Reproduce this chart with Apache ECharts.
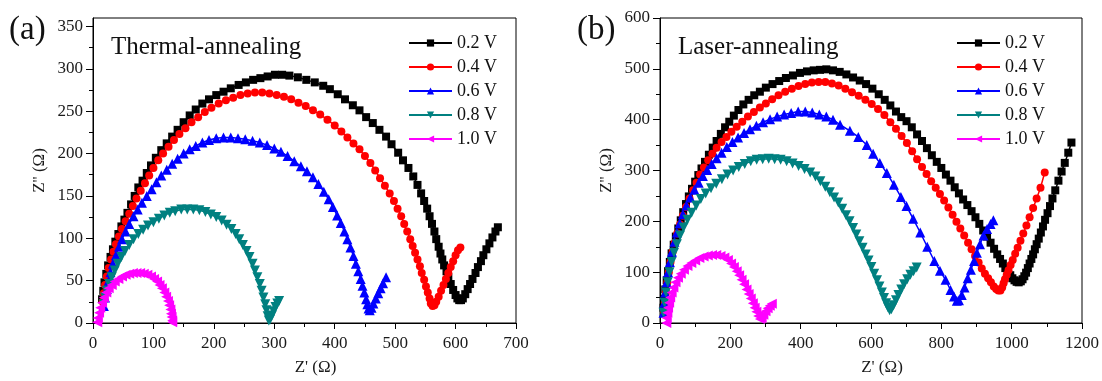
<!DOCTYPE html>
<html>
<head>
<meta charset="utf-8">
<script src="https://cdn.jsdelivr.net/npm/echarts@6/dist/echarts.min.js"></script>
<style>
  html, body { margin: 0; padding: 0; background: #ffffff; }
  #chart { width: 1102px; height: 381px; }
</style>
</head>
<body>
<div id="chart"></div>
<script>
// Bias voltages (legend entries)
const voltages = ['0.2 V', '0.4 V', '0.6 V', '0.8 V', '1.0 V'];

// Tick values
const thermalXTicks = [0, 100, 200, 300, 400, 500, 600, 700];
const thermalYTicks = [0, 50, 100, 150, 200, 250, 300, 350];
const thermalYMinor = [25, 75, 125, 175, 225, 275, 325];
const laserXTicks = [0, 200, 400, 600, 800, 1000, 1200];
const laserYTicks = [0, 100, 200, 300, 400, 500, 600];

// (a) Thermal-annealing: [Z' (Ω), Z'' (Ω)]
const thermal02 = [[15,28],[17,38],[19,48],[22,58],[25,68],[29,78],[33,87],[37,96],[42,105],[47,114],[52,122],[57,130],[63,140],[69,150],[75,160],[82,168],[89,177],[96,186],[104,195],[113,204],[122,212],[131,220],[140,228],[150,237],[160,245],[170,252],[181,259],[192,264],[204,269],[216,273],[228,277],[241,281],[253,284],[265,287],[277,289],[289,291],[301,293],[313,293],[325,292],[339,290],[353,287],[367,284],[381,280],[392,276],[405,270],[417,264],[430,257],[441,251],[452,243],[463,236],[474,228],[485,220],[494,211],[505,201],[513,192],[522,183],[530,173],[537,163],[543,153],[548,144],[553,135],[557,126],[561,117],[565,108],[568,99],[572,90],[575,82],[578,75],[581,68],[585,61],[588,54],[592,46],[596,39],[600,33],[603,29],[606,27],[609,27],[612,29],[616,34],[620,40],[624,46],[628,52],[633,59],[637,66],[642,73],[646,80],[651,87],[656,94],[661,101],[666,108],[670,113]];
const thermal04 = [[16,25],[18,35],[20,45],[23,55],[26,65],[30,75],[34,84],[38,93],[43,102],[48,111],[54,120],[60,129],[66,138],[72,147],[79,156],[86,165],[93,174],[100,183],[108,192],[116,200],[125,208],[134,216],[143,223],[153,230],[163,237],[174,243],[185,249],[196,254],[208,259],[220,263],[232,266],[244,269],[256,271],[268,272],[280,272],[292,271],[304,269],[316,267],[328,264],[340,260],[352,256],[364,251],[376,246],[388,240],[400,233],[411,226],[421,219],[431,212],[441,205],[450,197],[459,189],[467,180],[475,171],[483,162],[491,153],[498,144],[504,135],[510,126],[515,117],[520,108],[525,99],[529,91],[533,83],[537,75],[541,67],[544,59],[548,51],[551,43],[554,36],[557,29],[559,23],[562,20],[565,21],[568,25],[572,31],[576,38],[580,45],[584,52],[588,59],[592,66],[596,73],[600,80],[604,86],[608,89]];
const thermal06 = [[18,20],[20,30],[23,40],[26,50],[29,60],[33,70],[38,80],[43,90],[48,99],[54,108],[60,117],[67,126],[74,134],[81,142],[89,150],[97,158],[105,166],[113,174],[122,181],[131,188],[140,194],[150,200],[160,205],[170,209],[181,213],[192,216],[204,218],[216,219],[228,219],[240,218],[252,217],[264,215],[276,213],[288,210],[300,206],[311,202],[322,197],[333,191],[344,185],[354,179],[364,172],[373,164],[382,155],[390,146],[397,137],[404,127],[410,118],[416,108],[421,99],[426,89],[431,79],[435,70],[439,61],[443,52],[446,44],[449,36],[452,28],[454,22],[456,17],[458,15],[461,18],[464,23],[468,29],[472,35],[476,41],[480,47],[485,54]];
const thermal08 = [[18,22],[20,30],[23,38],[27,46],[31,54],[36,62],[41,70],[47,78],[53,85],[60,92],[67,99],[75,105],[83,110],[91,115],[100,119],[109,123],[118,127],[127,130],[136,132],[146,134],[156,134],[166,134],[176,133],[186,131],[195,128],[204,125],[213,121],[221,116],[229,111],[236,105],[242,99],[248,92],[254,85],[259,78],[264,70],[268,62],[272,54],[276,46],[279,38],[282,30],[285,22],[287,15],[289,8],[291,3],[293,4],[296,9],[299,14],[302,19],[305,23],[308,26]];
const thermal10 = [[7,1],[8,6],[10,12],[12,18],[15,24],[18,30],[22,36],[26,41],[31,45],[36,49],[42,52],[48,55],[54,57],[60,58],[66,59],[72,59],[78,59],[84,58],[90,57],[96,55],[101,52],[106,49],[110,45],[114,41],[118,36],[121,31],[124,26],[126,21],[128,16],[129,11],[130,7],[131,3],[131,1]];

// (b) Laser-annealing: [Z' (Ω), Z'' (Ω)]
const laser02 = [[10,30],[12,48],[15,66],[19,84],[23,102],[28,120],[33,137],[39,154],[45,170],[52,186],[59,202],[66,218],[74,234],[82,249],[91,264],[100,278],[109,291],[118,304],[128,317],[139,331],[150,345],[161,358],[173,372],[185,385],[197,396],[210,408],[223,419],[237,430],[252,439],[268,448],[284,455],[301,463],[320,470],[339,476],[358,482],[378,487],[398,492],[418,495],[437,497],[455,498],[473,499],[492,497],[511,494],[530,489],[549,483],[568,477],[586,470],[604,461],[622,450],[639,439],[655,428],[671,416],[686,405],[701,397],[716,385],[731,371],[745,358],[759,344],[773,330],[787,317],[800,305],[813,292],[826,280],[838,267],[850,255],[862,243],[874,232],[886,220],[897,208],[908,195],[919,182],[930,170],[940,158],[950,146],[959,135],[967,126],[975,117],[982,108],[989,101],[996,94],[1002,88],[1008,84],[1014,81],[1020,80],[1026,82],[1031,86],[1036,92],[1041,99],[1046,108],[1051,117],[1056,126],[1061,135],[1066,145],[1071,155],[1077,166],[1083,178],[1089,190],[1095,203],[1102,216],[1109,230],[1116,245],[1124,261],[1133,280],[1142,298],[1151,315],[1161,335],[1170,355]];
const laser04 = [[12,20],[14,40],[17,60],[21,80],[25,100],[30,120],[36,140],[42,158],[49,176],[57,194],[65,211],[74,228],[84,245],[94,261],[104,276],[114,292],[125,306],[137,320],[149,333],[161,345],[175,356],[189,366],[203,376],[218,386],[234,396],[250,406],[267,415],[284,424],[301,432],[319,440],[337,448],[356,455],[375,461],[394,466],[413,470],[432,473],[451,474],[470,474],[489,471],[508,467],[527,461],[546,454],[565,447],[584,439],[602,431],[620,421],[638,409],[655,395],[671,382],[687,368],[702,354],[717,338],[731,322],[745,307],[758,293],[771,279],[784,266],[796,254],[808,241],[820,227],[832,213],[843,199],[854,186],[865,172],[876,158],[886,145],[896,132],[906,119],[915,107],[924,97],[933,88],[941,80],[949,72],[956,67],[962,64],[968,64],[973,70],[977,78],[981,86],[986,95],[991,104],[997,114],[1003,124],[1010,136],[1017,148],[1025,162],[1033,176],[1042,192],[1051,208],[1061,226],[1071,245],[1082,266],[1094,296]];
const laser06 = [[10,20],[12,40],[15,60],[19,80],[23,100],[28,120],[34,140],[41,160],[48,178],[56,196],[65,214],[75,231],[86,247],[98,262],[110,276],[122,289],[134,301],[147,313],[161,324],[175,335],[190,346],[206,356],[222,365],[239,374],[256,381],[274,388],[293,395],[313,401],[333,406],[353,410],[373,413],[393,416],[413,416],[433,414],[453,410],[473,406],[492,400],[512,390],[540,378],[564,366],[588,350],[606,333],[625,315],[645,295],[665,272],[685,248],[701,230],[720,205],[740,178],[760,150],[780,122],[796,103],[812,85],[826,65],[836,52],[844,44],[850,45],[858,55],[866,70],[875,88],[884,105],[893,122],[901,138],[910,155],[920,172],[930,185],[940,195],[948,202]];
const laser08 = [[10,20],[13,40],[17,60],[22,80],[27,100],[33,120],[40,138],[48,155],[57,172],[67,188],[78,203],[90,217],[103,231],[116,244],[130,255],[145,265],[160,274],[176,283],[192,292],[208,300],[224,307],[241,313],[258,318],[275,321],[292,322],[309,323],[326,322],[343,321],[360,318],[377,314],[394,309],[411,303],[427,296],[442,288],[456,279],[470,268],[483,257],[495,247],[507,237],[518,225],[529,212],[539,200],[549,187],[558,174],[567,161],[576,148],[585,135],[593,123],[601,110],[609,97],[617,84],[624,72],[631,60],[637,49],[643,39],[648,31],[653,25],[658,27],[664,35],[671,45],[678,55],[686,66],[694,76],[703,86],[712,95],[721,102],[730,109]];
const laser10 = [[18,0],[19,10],[21,20],[23,30],[26,40],[29,50],[33,60],[38,70],[44,80],[51,89],[59,97],[68,105],[78,112],[89,118],[100,123],[112,128],[124,131],[136,133],[148,134],[160,134],[172,132],[183,129],[193,124],[202,117],[210,110],[218,102],[225,94],[232,85],[239,76],[246,66],[252,57],[258,48],[264,39],[269,30],[274,22],[279,14],[284,8],[289,10],[294,16],[300,23],[306,29],[312,34],[318,38]];

const thermalSets = [thermal02, thermal04, thermal06, thermal08, thermal10];
const laserSets = [laser02, laser04, laser06, laser08, laser10];

// Per-voltage marker styling
const colors = ['#000000', '#ff0000', '#0000ff', '#008080', '#ff00ff'];
const symbols = ['rect', 'circle', 'triangle', 'triangle', 'triangle'];
const symbolRotations = [0, 0, 0, 180, 90];
const symbolSizes = [8, 8, 10, 10, 10];

const FONT = '"Liberation Serif", "Times New Roman", serif';
const tickFont = { fontFamily: FONT, fontSize: 17, color: '#1a1a1a' };

function makeSeries(sets, gridIdx) {
  return sets.map((data, i) => ({
    name: voltages[i],
    type: 'line',
    xAxisIndex: gridIdx,
    yAxisIndex: gridIdx,
    data: data,
    symbol: symbols[i],
    symbolRotate: symbolRotations[i],
    symbolSize: symbolSizes[i],
    showAllSymbol: true,
    animation: false,
    clip: true,
    lineStyle: { color: colors[i], width: 1.5 },
    itemStyle: { color: colors[i], borderWidth: 0 }
  }));
}

function xAxisFor(gridIdx, ticks, minorSplit) {
  return {
    type: 'value', gridIndex: gridIdx, position: 'bottom',
    min: ticks[0], max: ticks[ticks.length - 1], interval: ticks[1] - ticks[0],
    name: "Z' (\u03A9)", nameLocation: 'middle', nameGap: 36,
    nameTextStyle: { fontFamily: FONT, fontSize: 17, color: '#1a1a1a', padding: [0, 0, 0, 22] },
    axisLine: { show: true, lineStyle: { color: '#000', width: 1 } },
    axisTick: { show: true, length: 6, lineStyle: { color: '#000', width: 1 } },
    minorTick: { show: true, splitNumber: minorSplit, length: 4, lineStyle: { color: '#000', width: 1 } },
    axisLabel: Object.assign({ margin: 12, formatter: (v) => String(v) }, tickFont),
    splitLine: { show: false }
  };
}

const yName = {
  name: "Z'' (\u03A9)", nameLocation: 'middle', nameGap: 45,
  nameTextStyle: { fontFamily: FONT, fontSize: 17, color: '#1a1a1a' }
};

const legendBase = {
  data: voltages, orient: 'vertical', top: 34, padding: 0,
  itemWidth: 43, itemHeight: 9, itemGap: 6,
  textStyle: { fontFamily: FONT, fontSize: 18, color: '#111', lineHeight: 18 },
  selectedMode: false
};

const option = {
  backgroundColor: '#ffffff',
  animation: false,
  title: [
    { text: '(a)', left: 4, top: 9, textStyle: { fontFamily: FONT, fontSize: 33, fontWeight: 'normal', color: '#111' } },
    { text: '(b)', left: 572, top: 9, textStyle: { fontFamily: FONT, fontSize: 33, fontWeight: 'normal', color: '#111' } },
    { text: 'Thermal-annealing', left: 106, top: 30, textStyle: { fontFamily: FONT, fontSize: 25, fontWeight: 'normal', color: '#111' } },
    { text: 'Laser-annealing', left: 673, top: 30, textStyle: { fontFamily: FONT, fontSize: 25, fontWeight: 'normal', color: '#111' } }
  ],
  legend: [
    Object.assign({ left: 408 }, legendBase),
    Object.assign({ left: 956 }, legendBase)
  ],
  grid: [
    { left: 93, top: 18, width: 423, height: 312, show: true, borderColor: '#000', borderWidth: 1, backgroundColor: 'transparent' },
    { left: 660, top: 18, width: 422, height: 312, show: true, borderColor: '#000', borderWidth: 1, backgroundColor: 'transparent' }
  ],
  xAxis: [
    xAxisFor(0, thermalXTicks, 2),
    xAxisFor(1, laserXTicks, 2)
  ],
  yAxis: [
    Object.assign({
      type: 'value', gridIndex: 0, position: 'left', min: 0, max: 360,
      axisLine: { show: true, lineStyle: { color: '#000', width: 1 } },
      axisTick: { show: true, length: 7, customValues: thermalYTicks, lineStyle: { color: '#000', width: 1 } },
      axisLabel: Object.assign({ margin: 10, customValues: thermalYTicks }, tickFont),
      splitLine: { show: false }
    }, yName),
    Object.assign({
      type: 'value', gridIndex: 1, position: 'left',
      min: laserYTicks[0], max: laserYTicks[laserYTicks.length - 1], interval: laserYTicks[1] - laserYTicks[0],
      axisLine: { show: true, lineStyle: { color: '#000', width: 1 } },
      axisTick: { show: true, length: 7, lineStyle: { color: '#000', width: 1 } },
      minorTick: { show: true, splitNumber: 2, length: 4, lineStyle: { color: '#000', width: 1 } },
      axisLabel: Object.assign({ margin: 10 }, tickFont),
      splitLine: { show: false }
    }, yName),
    {
      // minor ticks for panel (a) y axis
      type: 'value', gridIndex: 0, position: 'left', min: 0, max: 360,
      axisLine: { show: false },
      axisTick: { show: true, length: 4, customValues: thermalYMinor, lineStyle: { color: '#000', width: 1 } },
      axisLabel: { show: false },
      splitLine: { show: false }
    }
  ],
  series: makeSeries(thermalSets, 0).concat(makeSeries(laserSets, 1))
};

const chart = echarts.init(document.getElementById('chart'), null, { renderer: 'canvas' });
chart.setOption(option);
</script>
</body>
</html>
